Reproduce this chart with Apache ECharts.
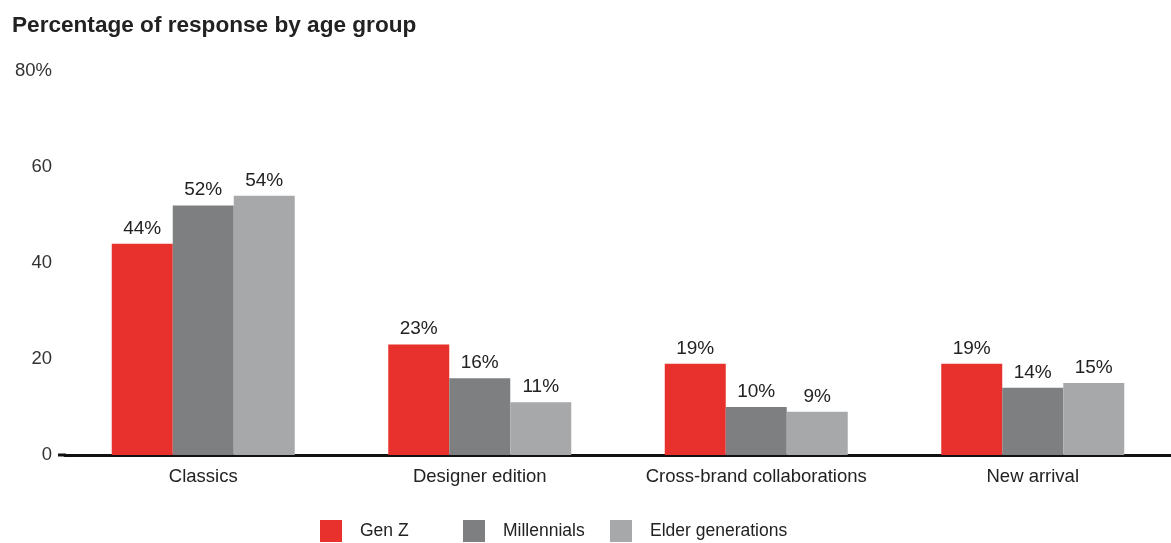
<!DOCTYPE html>
<html>
<head>
<meta charset="utf-8">
<script src="https://cdn.jsdelivr.net/npm/echarts@6/dist/echarts.min.js"></script>
<style>
html,body{margin:0;padding:0;background:#fff;}
#chart{width:1171px;height:543px;}
</style>
</head>
<body>
<div id="chart"></div>
<script>
const categories = ['Classics', 'Designer edition', 'Cross-brand collaborations', 'New arrival'];
const genZ = [44, 23, 19, 19];
const millennials = [52, 16, 10, 14];
const elder = [54, 11, 9, 15];
const seriesNames = ['Gen Z', 'Millennials', 'Elder generations'];
const colors = ['#E8312D', '#7E7F81', '#A7A8AA'];
const yTicks = [0, 20, 40, 60, 80];

const FONT = '"Liberation Sans", Arial, sans-serif';
const chart = echarts.init(document.getElementById('chart'), null, {renderer: 'canvas'});

const labelStyle = {
  show: true, position: 'top', distance: 6,
  formatter: p => p.value + '%',
  fontFamily: FONT, fontSize: 19, color: '#222'
};

function mkSeries(name, data, color) {
  return {
    name: name, type: 'bar', data: data, barWidth: 61, barGap: '0%',
    itemStyle: {color: color}, label: labelStyle
  };
}

const legendCommon = {
  orient: 'horizontal', top: 520, itemWidth: 22, itemHeight: 22, itemGap: 0, padding: 0,
  icon: 'rect', textStyle: {fontFamily: FONT, fontSize: 17.5, color: '#222', padding: [0, 0, 0, 13]},
  selectedMode: false
};

chart.setOption({
  backgroundColor: '#ffffff',
  animation: false,
  title: {
    text: 'Percentage of response by age group', left: 12, top: 14, padding: 0,
    textStyle: {fontFamily: FONT, fontSize: 22.6, fontWeight: 'bold', color: '#222'}
  },
  legend: [
    Object.assign({}, legendCommon, {left: 320, data: [seriesNames[0]]}),
    Object.assign({}, legendCommon, {left: 463, data: [seriesNames[1]]}),
    Object.assign({}, legendCommon, {left: 610, data: [seriesNames[2]]})
  ],
  grid: {left: 65, right: -6, top: 71, bottom: 88, containLabel: false},
  xAxis: {
    type: 'category', data: categories,
    axisLine: {show: true, lineStyle: {color: '#111', width: 3}},
    axisTick: {show: false},
    axisLabel: {fontFamily: FONT, fontSize: 18.5, color: '#222', margin: 12, interval: 0}
  },
  yAxis: {
    type: 'value', min: yTicks[0], max: yTicks[yTicks.length - 1], interval: 20,
    splitLine: {show: false}, axisLine: {show: false}, axisTick: {show: false},
    axisLabel: {
      fontFamily: FONT, fontSize: 18.5, color: '#333', margin: 13,
      formatter: v => v === yTicks[yTicks.length - 1] ? v + '%' : String(v)
    }
  },
  graphic: [{
    type: 'line', shape: {x1: 58, y1: 455, x2: 66, y2: 455},
    style: {stroke: '#111', lineWidth: 3}
  }],
  series: [
    mkSeries(seriesNames[0], genZ, colors[0]),
    mkSeries(seriesNames[1], millennials, colors[1]),
    mkSeries(seriesNames[2], elder, colors[2])
  ]
});
</script>
</body>
</html>
